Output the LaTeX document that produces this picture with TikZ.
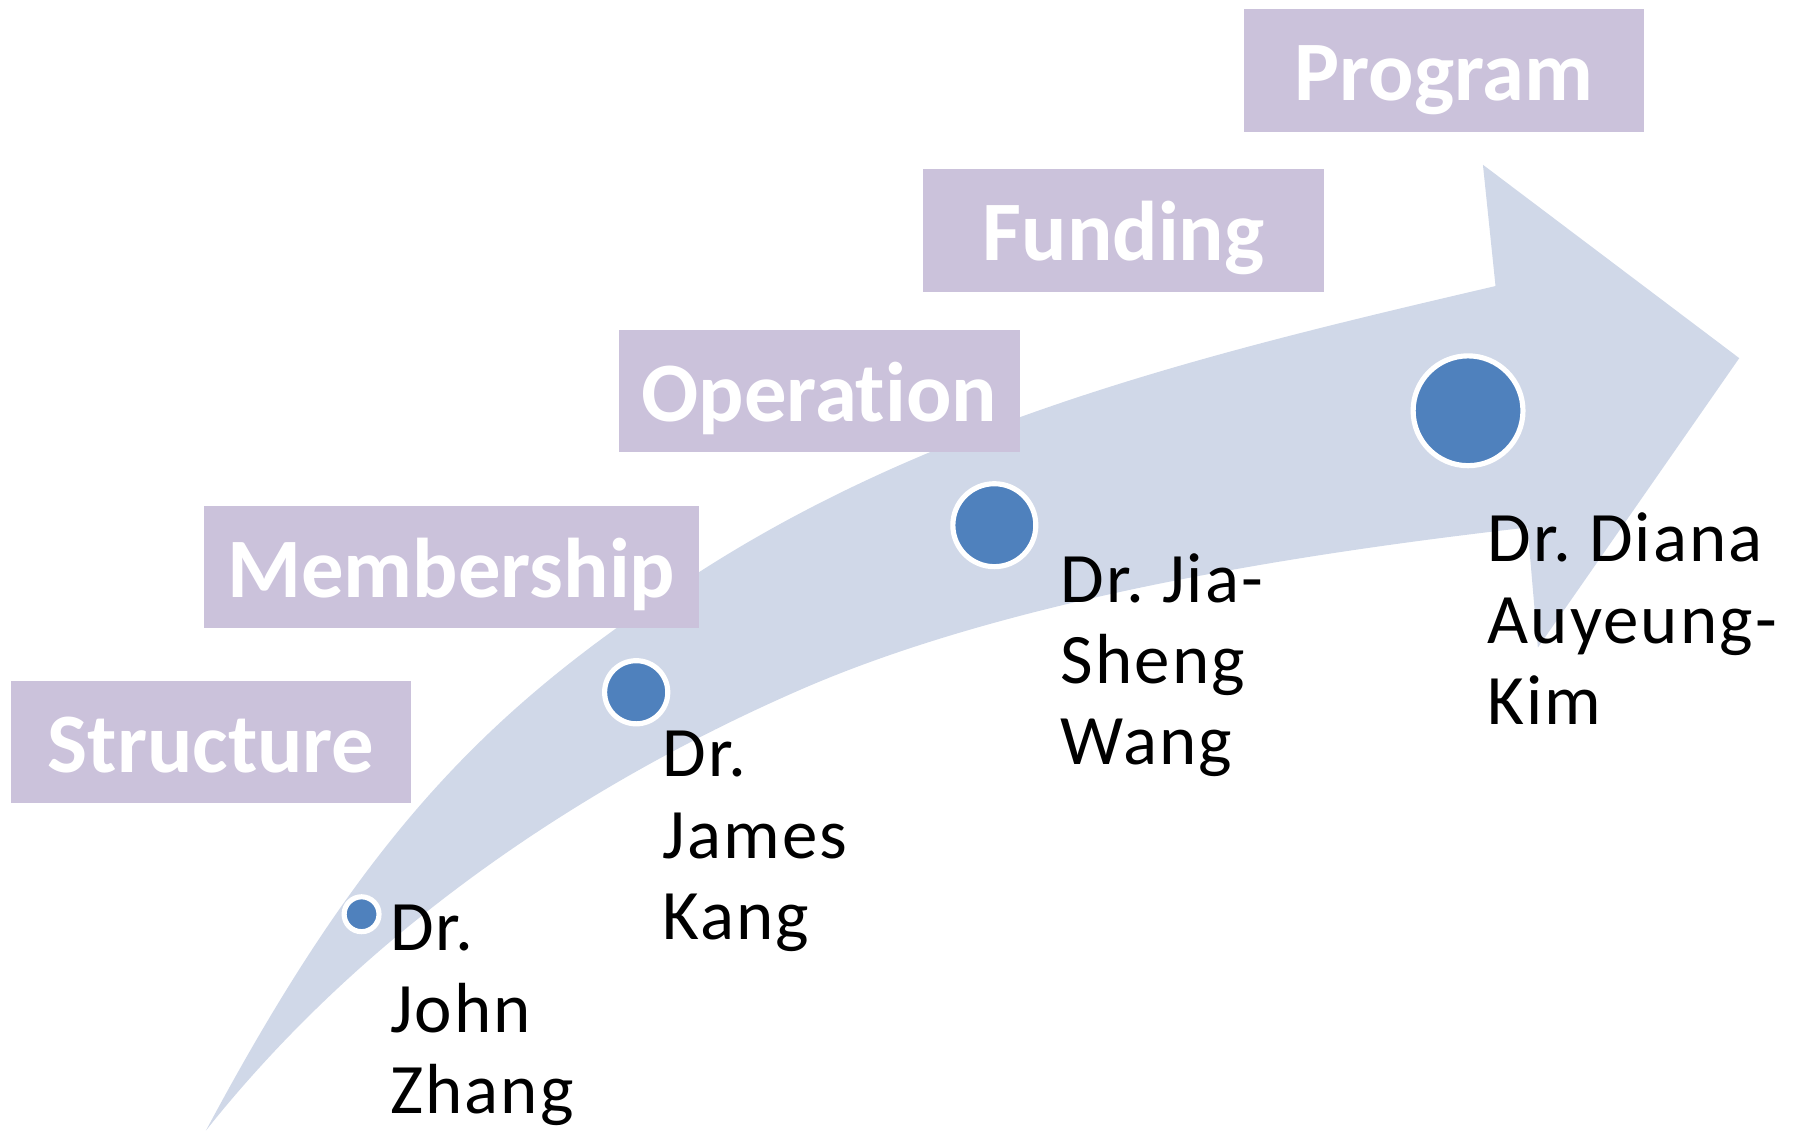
\documentclass[tikz,border=0pt]{standalone}
\usepackage{fontspec}
\setmainfont{Carlito}[Ligatures={NoCommon}, Contextuals={NoAlternate}]
\newfontfamily\namefont{Carlito}[LetterSpace=3, Ligatures={NoCommon}, Contextuals={NoAlternate}]
\definecolor{boxc}{RGB}{203,194,219}
\definecolor{arrowc}{RGB}{208,216,232}
\definecolor{dotc}{RGB}{79,129,189}
\begin{document}
\begin{tikzpicture}[x=0.5pt,y=-0.5pt,
  stagebox/.style={fill=boxc, inner sep=0pt, outer sep=0pt, anchor=north west,
     text=white, font=\fontsize{37}{40}\selectfont\bfseries,
     minimum height=53.5pt, text height=40pt, text depth=13.5pt},
  dotmark/.style={circle, fill=dotc, draw=white, line width=2.25pt, inner sep=0pt, outer sep=0pt},
  personlabel/.style={anchor=base west, inner sep=0pt, outer sep=0pt, align=left,
     font=\namefont\fontsize{31}{35.5}\selectfont\frenchspacing, text=black}]
\useasboundingbox (0,0) rectangle (1567,989);
% arrow
\fill[arrowc] (180,988) .. controls (321,724) and (430.4,616.1) .. (611,500)
  .. controls (821,365) and (1063.5,306.75) .. (1307,250)
  -- (1296,144) -- (1520,313) -- (1344,566) -- (1335,461)
  .. controls (1136,483.8) and (882.4,523) .. (699,603)
  .. controls (515.6,683) and (322.6,808.6) .. (180,988) -- cycle;
% stage boxes
\node[stagebox, minimum width=174.5pt] (structure) at (10,595) {Structure};
\node[stagebox, minimum width=216.5pt] (membership) at (178,442) {Membership};
\node[stagebox, minimum width=175pt] (operation) at (541,288) {Operation};
\node[stagebox, minimum width=175pt] (funding) at (807,148) {Funding};
\node[stagebox, minimum width=175pt] (program) at (1087,8) {Program};
% names (anchored at the baseline of the last line)
\node[personlabel] (john) at (341,973) {Dr.\\John\\Zhang};
\node[personlabel] (james) at (579,821) {Dr.\\James\\Kang};
\node[personlabel] (jia) at (927,668.5) {Dr. Jia-\\Sheng\\Wang};
\node[personlabel] (diana) at (1300,633) {Dr. Diana\\Auyeung-\\Kim};
% dots
\node[dotmark, minimum size=15.25pt] (d1) at (316,799) {};
\node[dotmark, minimum size=27.6pt] (d2) at (556,605) {};
\node[dotmark, minimum size=36.25pt] (d3) at (869,459) {};
\node[dotmark, minimum size=48pt] (d4) at (1283,359) {};
\end{tikzpicture}
\end{document}
